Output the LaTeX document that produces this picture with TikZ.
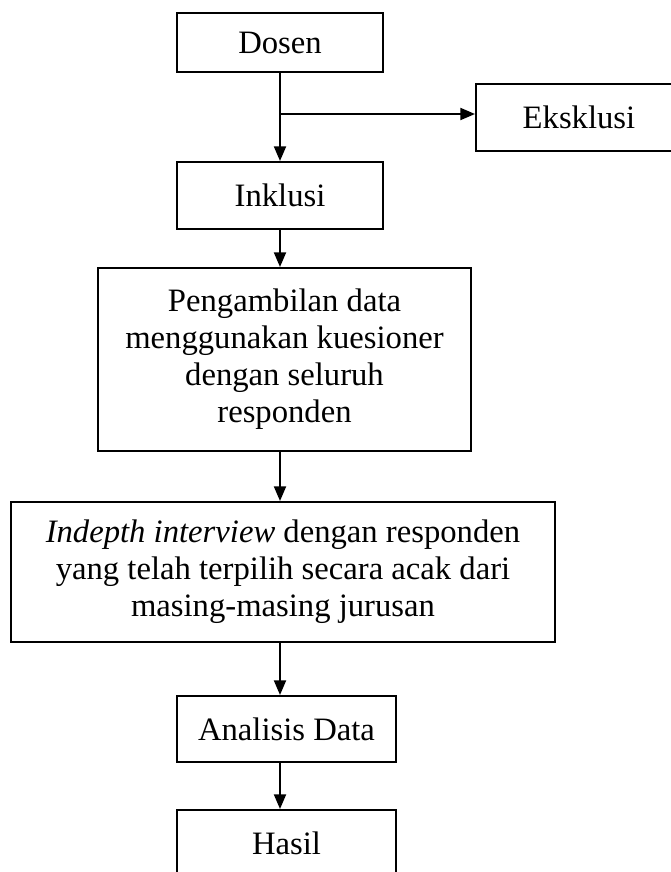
\documentclass[tikz,border=0pt]{standalone}
\usepackage{fontspec}
\setmainfont{Liberation Serif}
\usepackage{tikz}
\usetikzlibrary{arrows.meta,calc,positioning}

\begin{document}
\begin{tikzpicture}[->,>={Triangle[length=11pt,width=9pt]},x=0.75pt,y=-0.75pt,line width=1.5pt]

   \tikzstyle{box}=[draw,line width=1.5pt,align=center,inner sep=2pt,
                    font=\fontsize{24.5}{27.75}\selectfont]

   % page frame of the scan
   \useasboundingbox (0,0) rectangle (671,872);
   \clip (0,0) rectangle (671,872);

   \node[box,minimum width=154.5pt,minimum height=44.25pt] at (280,42.5) (dosen) {Dosen};

   \node[box,minimum width=154.5pt,minimum height=50.25pt] at (280,195.5) (inklusi) {Inklusi};

   \node[box,minimum width=154.5pt,minimum height=50.25pt] at (579,117.5) (eksklusi) {Eksklusi};

   \node[box,minimum width=279.75pt,minimum height=137.25pt] at (284.5,359.5) (ambil)
        {Pengambilan data\\menggunakan kuesioner\\dengan seluruh\\responden};

   \node[box,minimum width=408pt,minimum height=105pt] at (283,572) (interview)
        {\textit{Indepth interview} dengan responden\\yang telah terpilih secara acak dari\\masing-masing jurusan};

   \node[box,minimum width=164.25pt,minimum height=49.5pt] at (286.5,729) (analisis) {Analisis Data};

   \node[box,minimum width=164.25pt,minimum height=49.5pt] at (286.5,843) (hasil) {Hasil};

   % split towards the excluded group
   \coordinate (split) at ($(dosen.south)+(0,41)$);

   \draw (dosen) -- (inklusi);
   \draw (split) -- (split -| eksklusi.west);

   \draw (inklusi) -- (inklusi |- ambil.north);
   \draw (inklusi |- ambil.south) -- (inklusi |- interview.north);
   \draw (inklusi |- interview.south) -- (inklusi |- analisis.north);
   \draw (inklusi |- analisis.south) -- (inklusi |- hasil.north);

\end{tikzpicture}
\end{document}
